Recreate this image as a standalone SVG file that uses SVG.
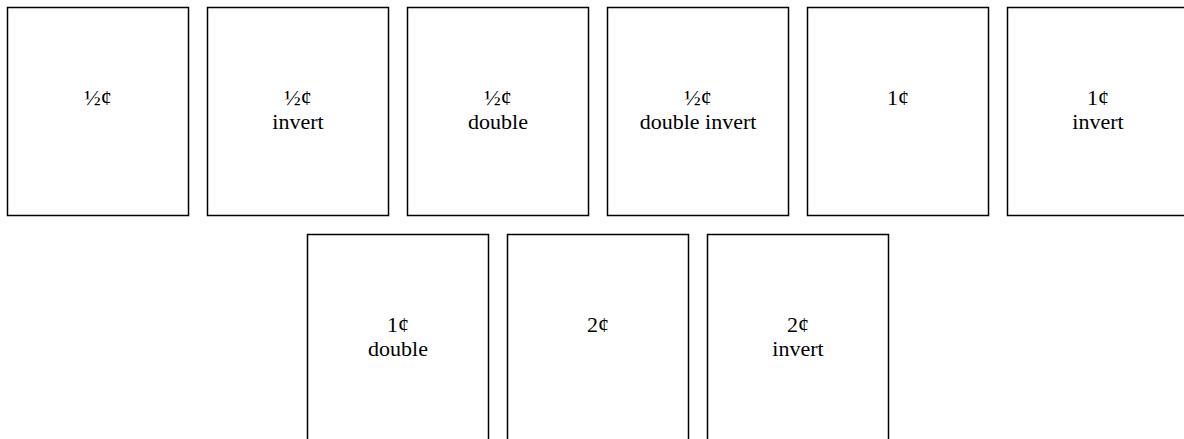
<svg xmlns="http://www.w3.org/2000/svg" width="1184" height="439" viewBox="0 0 1184 439">
<style>
rect.box{fill:#fff;stroke:#000;stroke-width:1.5}
text{font-family:"Liberation Serif","Times New Roman",serif;font-size:22px;fill:#000;text-anchor:middle}
</style>
<rect width="1184" height="439" fill="#fff"/>
<g id="n1"><rect class="box" x="7.5" y="7.5" width="181" height="208"/><text x="98" y="105">½¢</text></g>
<g id="n2"><rect class="box" x="207.5" y="7.5" width="181" height="208"/><text x="298" y="105">½¢</text><text x="298" y="129">invert</text></g>
<g id="n3"><rect class="box" x="407.5" y="7.5" width="181" height="208"/><text x="498" y="105">½¢</text><text x="498" y="129">double</text></g>
<g id="n4"><rect class="box" x="607.5" y="7.5" width="181" height="208"/><text x="698" y="105">½¢</text><text x="698" y="129">double invert</text></g>
<g id="n5"><rect class="box" x="807.5" y="7.5" width="181" height="208"/><text x="898" y="105">1¢</text></g>
<g id="n6"><rect class="box" x="1007.5" y="7.5" width="181" height="208"/><text x="1098" y="105">1¢</text><text x="1098" y="129">invert</text></g>
<g id="n7"><rect class="box" x="307.5" y="234.5" width="181" height="208"/><text x="398" y="332">1¢</text><text x="398" y="356">double</text></g>
<g id="n8"><rect class="box" x="507.5" y="234.5" width="181" height="208"/><text x="598" y="332">2¢</text></g>
<g id="n9"><rect class="box" x="707.5" y="234.5" width="181" height="208"/><text x="798" y="332">2¢</text><text x="798" y="356">invert</text></g>
<g id="connectors"></g>
</svg>
